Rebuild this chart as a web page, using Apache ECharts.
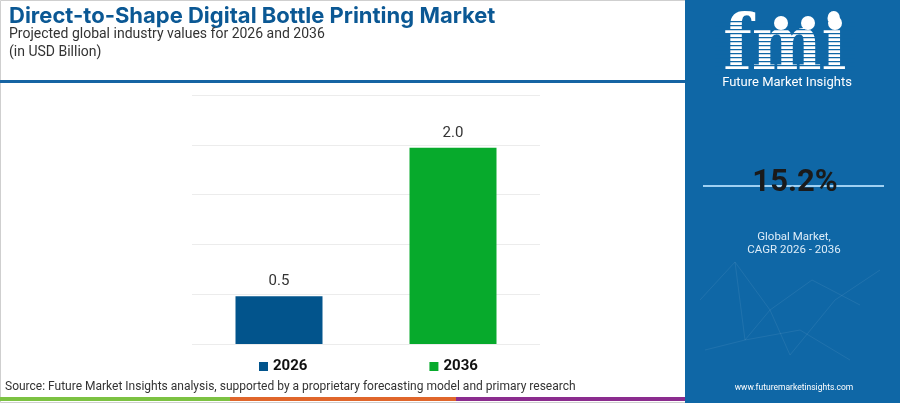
<!DOCTYPE html>
<html>
<head>
<meta charset="utf-8">
<script src="https://cdn.jsdelivr.net/npm/echarts@6/dist/echarts.min.js"></script>
<style>
  html, body { margin: 0; padding: 0; background: #fff; }
  #chart { width: 900px; height: 403px; }
</style>
</head>
<body>
<div id="chart"></div>
<script>
// data
var years = ['2026', '2036'];
var values = [0.48, 1.97];
var barColors = ['#02548c', '#07aa2c'];
var cagr = '15.2%';

var panelBlue = '#0f67a6';

var myChart = echarts.init(document.getElementById('chart'));

// one series per year so the legend shows both colours
var series = years.map(function (y, i) {
    var d = years.map(function (_, j) { return j === i ? values[i] : '-'; });
    return {
        name: y,
        type: 'bar',
        data: d,
        barWidth: 87,
        barGap: '-100%',
        itemStyle: { color: barColors[i] },
        label: {
            show: true,
            position: 'top',
            distance: 7,
            color: '#333',
            fontFamily: 'Roboto',
            fontSize: 15,
            formatter: function (p) { return Number(p.value).toFixed(1); }
        }
    };
});

// stripes across the fmi letters
var stripes = [];
for (var sy = 21; sy < 74; sy += 4) {
    stripes.push({ type: 'rect', shape: { x: 715, y: sy, width: 140, height: 1.3 }, style: { fill: panelBlue }, z: 20 });
}

// faint network lines in the lower part of the panel
var net = [
    [[700, 300], [735, 262], [770, 310], [812, 280], [860, 305]],
    [[735, 262], [745, 340], [800, 330], [850, 360]],
    [[770, 310], [790, 355], [835, 300], [880, 270]],
    [[705, 350], [745, 340], [770, 310]]
];
var netLines = net.map(function (pts) {
    return { type: 'polyline', shape: { points: pts }, style: { stroke: 'rgba(255,255,255,0.07)', lineWidth: 1, fill: 'none' } };
});

var option = {
    animation: false,
    backgroundColor: '#fff',
    grid: { left: 192, right: 360, top: 95, bottom: 59 },
    xAxis: {
        type: 'category',
        data: years,
        axisLine: { show: false },
        axisTick: { show: false },
        axisLabel: { show: false }
    },
    yAxis: {
        type: 'value',
        min: 0,
        max: 2.5,
        interval: 0.5,
        axisLabel: { show: false },
        axisLine: { show: false },
        axisTick: { show: false },
        splitLine: { lineStyle: { color: '#ececec', width: 1 } }
    },
    legend: {
        left: 254,
        top: 354,
        itemWidth: 9,
        itemHeight: 9,
        itemGap: 122,
        icon: 'rect',
        textStyle: { fontFamily: 'Roboto', fontWeight: 'bold', fontSize: 15, color: '#111' },
        data: years
    },
    series: series,
    graphic: [
        // outer border
        { type: 'rect', shape: { x: 0.5, y: 0.5, width: 899, height: 402 }, style: { fill: 'none', stroke: '#cfcfcf', lineWidth: 1 }, z: -1 },
        // title block
        { type: 'text', left: 9, top: 5, style: { text: 'Direct-to-Shape Digital Bottle Printing Market', font: 'bold 22px Inter', fill: '#0b5894' } },
        { type: 'text', left: 9, top: 27, style: { text: 'Projected global industry values for 2026 and 2036', font: '14px Roboto', fill: '#333' } },
        { type: 'text', left: 9, top: 45, style: { text: '(in USD Billion)', font: '14px Roboto', fill: '#333' } },
        { type: 'rect', shape: { x: 0, y: 80, width: 686, height: 3 }, style: { fill: '#1664a3' } },
        // source and coloured strip
        { type: 'text', left: 5, top: 381, style: { text: 'Source: Future Market Insights analysis, supported by a proprietary forecasting model and primary research', font: '12px Roboto', fill: '#333' } },
        { type: 'rect', shape: { x: 0, y: 397, width: 230, height: 4 }, style: { fill: '#7cc242' } },
        { type: 'rect', shape: { x: 230, y: 397, width: 226, height: 4 }, style: { fill: '#e0662b' } },
        { type: 'rect', shape: { x: 456, y: 397, width: 230, height: 4 }, style: { fill: '#8b2c8e' } },
        // right panel
        { type: 'rect', shape: { x: 685, y: 0, width: 215, height: 403 }, style: { fill: panelBlue } },
        { type: 'text', x: 785, y: 60, originX: 785, originY: 72, scaleY: 1.15, style: { text: 'fmi', font: 'bold 66px "DejaVu Serif"', fill: '#fff', align: 'center', verticalAlign: 'middle' }, z: 10 },
        { type: 'circle', shape: { cx: 781, cy: 23, r: 7 }, style: { fill: '#fff' }, z: 21 },
        { type: 'circle', shape: { cx: 808, cy: 23, r: 7 }, style: { fill: '#fff' }, z: 21 },
        { type: 'circle', shape: { cx: 835, cy: 23, r: 7 }, style: { fill: '#fff' }, z: 21 },
        { type: 'text', x: 787, y: 83, style: { text: 'Future Market Insights', font: '13px Roboto', fill: '#fff', align: 'center', verticalAlign: 'middle' } },
        { type: 'rect', shape: { x: 703, y: 185, width: 181, height: 2 }, style: { fill: '#9fd0f2' } },
        { type: 'text', x: 795, y: 183, style: { text: cagr, font: 'bold 31px Roboto', fill: '#1a1a1a', align: 'center', verticalAlign: 'middle' } },
        { type: 'text', x: 794, y: 237, style: { text: 'Global Market,', font: '11.5px Roboto', fill: '#dcecf8', align: 'center', verticalAlign: 'middle' } },
        { type: 'text', x: 794, y: 250, style: { text: 'CAGR 2026 - 2036', font: '11.5px Roboto', fill: '#dcecf8', align: 'center', verticalAlign: 'middle' } },
        { type: 'text', x: 794, y: 388, style: { text: 'www.futuremarketinsights.com', font: '8.5px Roboto', fill: '#fff', align: 'center', verticalAlign: 'middle' } }
    ].concat(stripes, netLines)
};

myChart.setOption(option);
</script>
</body>
</html>
